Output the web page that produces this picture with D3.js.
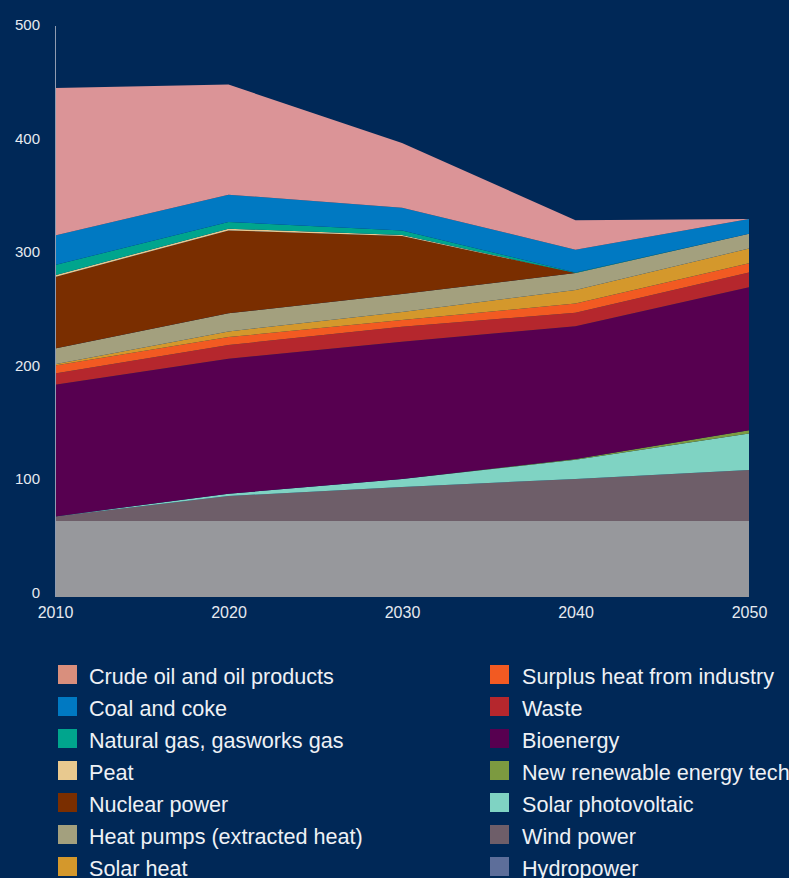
<!DOCTYPE html>
<html>
<head>
<meta charset="utf-8">
<script src="https://cdn.jsdelivr.net/npm/d3@7"></script>
<style>
  html, body { margin: 0; padding: 0; background: #002857; }
  svg { display: block; }
  text { font-family: "Liberation Sans", Arial, Helvetica, sans-serif; }
</style>
</head>
<body>
<svg id="chart" width="789" height="878"></svg>
<script>
// ---- Data ----
const years = [2010, 2020, 2030, 2040, 2050];
const yTicks = [0, 100, 200, 300, 400, 500];

// stacking order bottom -> top
const hydropower    = [67, 67, 67, 67, 67];
const windPower     = [4, 22, 30, 37, 45];
const solarPV       = [0, 2, 7, 17, 32];
const newRenewable  = [0, 0, 0, 0.5, 3];
const bioenergy     = [116, 119, 121, 117, 126];
const waste         = [10, 12, 13, 12, 13];
const surplusHeat   = [7, 7, 6, 8, 8];
const solarHeat     = [1, 5, 7, 12, 13];
const heatPumps     = [14, 16, 16, 15, 13];
const nuclear       = [63, 73, 51, 0, 0];
const peat          = [1.5, 1.5, 1, 0, 0];
const naturalGas    = [9, 6, 4, 0.5, 0];
const coalCoke      = [26, 24, 20, 20, 13];
const crudeOil      = [130, 97, 57, 26, 0];

const seriesNames = [
  "Hydropower", "Wind power", "Solar photovoltaic", "New renewable energy tech",
  "Bioenergy", "Waste", "Surplus heat from industry", "Solar heat",
  "Heat pumps (extracted heat)", "Nuclear power", "Peat",
  "Natural gas, gasworks gas", "Coal and coke", "Crude oil and oil products"
];
const seriesValues = [
  hydropower, windPower, solarPV, newRenewable, bioenergy, waste, surplusHeat,
  solarHeat, heatPumps, nuclear, peat, naturalGas, coalCoke, crudeOil
];
const areaColors = [
  "#97989c", "#6e5e69", "#7fd3c3", "#7c9a40", "#570050", "#b5272d", "#f25a22",
  "#d4982c", "#a3a07e", "#7a2e00", "#e8c98f", "#00a58d", "#0079c2", "#db9497"
];

const legendLeft = [
  "Crude oil and oil products", "Coal and coke", "Natural gas, gasworks gas",
  "Peat", "Nuclear power", "Heat pumps (extracted heat)", "Solar heat"
];
const legendLeftColors = ["#d98f7d", "#0079c2", "#00a58d", "#e8c98f", "#7a2e00", "#a3a07e", "#d4982c"];
const legendRight = [
  "Surplus heat from industry", "Waste", "Bioenergy", "New renewable energy tech",
  "Solar photovoltaic", "Wind power", "Hydropower"
];
const legendRightColors = ["#f25a22", "#b5272d", "#570050", "#7c9a40", "#7fd3c3", "#6e5e69", "#5d6e9a"];

// ---- Build table ----
const table = years.map((yr, i) => {
  const row = { year: yr };
  seriesNames.forEach((n, j) => { row[n] = seriesValues[j][i]; });
  return row;
});

const svg = d3.select("#chart");
const x = d3.scaleLinear().domain([2010, 2050]).range([55, 749]);
const y = d3.scaleLinear().domain([0, 500]).range([597, 29.5]);

const stack = d3.stack().keys(seriesNames);
const layers = stack(table);

const area = d3.area()
  .x(d => x(d.data.year))
  .y0(d => y(d[0]))
  .y1(d => y(d[1]));

svg.append("g").selectAll("path")
  .data(layers)
  .join("path")
  .attr("d", area)
  .attr("fill", (d, i) => areaColors[i]);

// y axis line
svg.append("line")
  .attr("x1", 55.5).attr("x2", 55.5)
  .attr("y1", 26).attr("y2", y(0))
  .attr("stroke", "#8f9bb0").attr("stroke-width", 1);

// y tick labels (baseline at the tick value)
const yAxis = d3.axisLeft(y).tickValues(yTicks).tickSize(0).tickPadding(15);
const yg = svg.append("g").attr("transform", "translate(55,0)").call(yAxis);
yg.select(".domain").remove();
yg.selectAll("text")
  .attr("fill", "#e6eaf0")
  .attr("font-size", 15)
  .attr("dy", "0")
  .style("font-family", '"Liberation Sans", Arial, sans-serif');

// x tick labels
const xAxis = d3.axisBottom(x).tickValues(years).tickFormat(d3.format("d")).tickSize(0).tickPadding(0);
const xg = svg.append("g").attr("transform", `translate(0,${y(0)})`).call(xAxis);
xg.select(".domain").remove();
xg.selectAll("text")
  .attr("fill", "#e6eaf0")
  .attr("font-size", 16)
  .attr("y", 21)
  .attr("dy", "0")
  .style("font-family", '"Liberation Sans", Arial, sans-serif');

// ---- Legend ----
function legendColumn(names, colors, sx, tx) {
  const g = svg.append("g");
  names.forEach((n, i) => {
    const top = 665 + 32 * i;
    g.append("rect").attr("x", sx).attr("y", top).attr("width", 19).attr("height", 19).attr("fill", colors[i]);
    g.append("text").attr("x", tx).attr("y", top + 19)
      .attr("fill", "#eef1f5").attr("font-size", 21.6).text(n);
  });
}
legendColumn(legendLeft, legendLeftColors, 58, 89);
legendColumn(legendRight, legendRightColors, 490, 522);
</script>
</body>
</html>
